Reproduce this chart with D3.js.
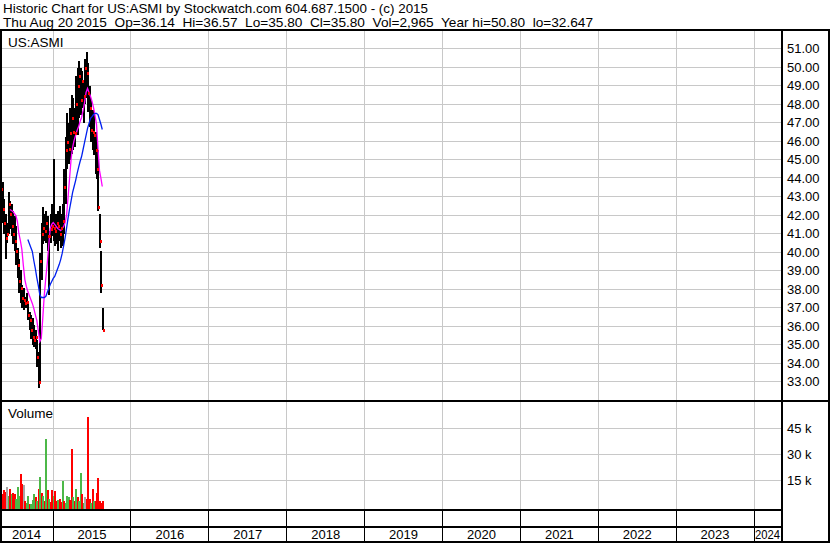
<!DOCTYPE html>
<html><head><meta charset="utf-8">
<script src="https://cdn.jsdelivr.net/npm/d3@7/dist/d3.min.js"></script>
<style>
body{margin:0;background:#fff}
svg{display:block}
text{font-family:"Liberation Sans",Arial,sans-serif;fill:#000}
</style>
</head><body>
<svg id="c" width="830" height="543"></svg>
<script>
// ---- data (weekly) ----
const dates = ["2014-05-02","2014-05-09","2014-05-16","2014-05-23","2014-05-30","2014-06-06","2014-06-13","2014-06-20","2014-06-27","2014-07-04","2014-07-11","2014-07-18","2014-07-25","2014-08-01","2014-08-08","2014-08-15","2014-08-22","2014-08-29","2014-09-05","2014-09-12","2014-09-19","2014-09-26","2014-10-03","2014-10-10","2014-10-17","2014-10-24","2014-10-31","2014-11-07","2014-11-14","2014-11-21","2014-11-28","2014-12-05","2014-12-12","2014-12-19","2014-12-26","2015-01-02","2015-01-09","2015-01-16","2015-01-23","2015-01-30","2015-02-06","2015-02-13","2015-02-20","2015-02-27","2015-03-06","2015-03-13","2015-03-20","2015-03-27","2015-04-03","2015-04-10","2015-04-17","2015-04-24","2015-05-01","2015-05-08","2015-05-15","2015-05-22","2015-05-29","2015-06-05","2015-06-12","2015-06-19","2015-06-26","2015-07-03","2015-07-10","2015-07-17","2015-07-24","2015-07-31","2015-08-07","2015-08-14","2015-08-20"];
const high = [44.30,43.81,42.89,42.03,41.59,43.27,42.78,42.62,42.19,41.92,
41.43,40.19,39.62,39.03,38.22,38.03,37.59,37.81,37.32,36.78,
36.62,36.41,36.03,35.81,35.22,34.62,39.97,41.59,42.41,42.03,
42.19,41.92,41.11,42.03,42.62,45.05,42.08,42.03,42.19,42.51,
42.03,42.62,44.51,46.24,47.49,47.00,47.81,48.51,48.30,47.81,
49.49,49.97,50.30,49.97,49.81,49.22,50.41,50.80,50.19,49.00,
48.19,47.70,47.38,46.51,45.97,45.49,42.03,40.03,36.95];
const low = [42.57,41.59,41.00,39.62,40.46,41.00,41.22,40.84,40.41,40.03,
39.32,38.62,37.81,37.22,36.95,36.89,37.00,37.00,36.30,35.81,
35.32,35.00,34.89,34.78,33.81,32.65,32.97,38.51,40.41,40.62,
40.46,40.03,37.70,40.46,40.84,40.62,40.30,40.41,40.03,40.62,
40.19,40.30,41.00,42.62,44.51,44.78,45.00,45.32,45.49,45.70,
46.51,46.30,47.22,47.38,47.81,47.00,48.00,48.30,47.59,46.78,
45.97,45.49,45.22,44.19,43.97,42.19,40.19,37.81,35.80];
const close = [43.43,42.35,41.59,40.76,41.00,42.62,42.03,41.43,41.00,40.62,
40.03,39.32,38.41,38.03,37.51,37.41,37.22,37.32,36.62,36.30,
35.81,35.43,35.22,35.38,34.30,32.97,39.49,41.00,41.32,41.11,
41.59,40.84,40.84,41.22,41.43,41.32,41.11,41.59,41.43,41.00,
41.32,41.70,43.49,45.49,45.97,45.59,46.41,47.22,46.51,46.41,
48.00,48.97,49.49,48.19,49.22,48.41,49.97,49.70,48.62,47.81,
46.57,46.51,46.30,45.49,44.51,42.41,40.62,38.19,35.80];
const volumeK = [10.4,7.0,9.2,8.5,11.0,6.0,9.8,6.9,7.5,6.9,
4.5,11.0,6.0,18.5,12.7,12.1,2.9,2.0,5.8,1.2,
1.5,3.5,6.9,5.2,3.0,9.8,16.7,7.5,5.8,3.0,
38.7,9.2,4.0,2.5,9.2,5.8,8.7,2.9,3.5,4.0,
2.5,14.4,3.0,2.0,5.8,5.2,3.5,32.9,5.2,3.0,
9.8,5.5,3.0,19.0,6.9,2.0,5.5,4.0,51.4,4.0,
2.0,9.8,3.0,3.0,7.5,16.2,2.9,2.0,2.965];
// 1 = up day, -1 = down day, 0 = unchanged
const volDir = [0,-1,-1,-1,0,1,-1,1,-1,-1,
1,1,1,-1,-1,0,-1,1,1,-1,
1,1,1,-1,1,-1,1,-1,1,-1,
1,-1,1,-1,-1,1,-1,-1,1,-1,
-1,1,-1,1,1,1,-1,-1,1,-1,
1,-1,1,1,-1,1,0,-1,-1,-1,
1,-1,1,-1,-1,-1,-1,-1,-1];
const maShort = [null,null,null,null,null,null,
42.30,42.24,42.19,42.08,41.97,41.65,41.00,40.62,40.14,39.27,38.51,38.14,37.86,37.65,
37.43,37.22,36.95,36.62,36.30,35.76,35.16,35.32,36.41,37.65,38.57,39.38,40.35,41.27,
41.49,41.59,41.49,41.38,41.27,41.22,41.16,41.27,41.38,41.59,42.03,43.00,44.03,45.05,
45.65,46.03,46.30,46.57,46.78,47.05,47.27,47.65,48.08,48.62,48.84,48.62,48.41,48.14,
47.81,47.38,46.89,45.59,44.41,43.97,43.54];
const maLong = [null,null,null,null,null,null,null,null,null,null,null,null,null,null,null,null,null,null,
40.68,40.46,40.24,40.03,39.54,39.11,38.62,38.19,37.70,37.54,37.54,37.54,37.59,37.81,
38.03,38.24,38.41,38.57,38.68,38.89,39.11,39.32,39.59,39.92,40.35,40.78,41.32,41.86,
42.35,42.78,43.22,43.54,43.86,44.24,44.57,44.89,45.16,45.54,45.92,46.30,46.68,46.95,
47.22,47.32,47.43,47.49,47.49,47.43,47.16,46.89,46.62];
const priceTicks = [51,50,49,48,47,46,45,44,43,42,41,40,39,38,37,36,35,34,33];
const volTicks = [15,30,45];
const yearLabels = [2014,2015,2016,2017,2018,2019,2020,2021,2022,2023,2024];
const header1 = "Historic Chart for US:ASMI by Stockwatch.com 604.687.1500 - (c) 2015";
const header2 = "Thu Aug 20 2015  Op=36.14  Hi=36.57  Lo=35.80  Cl=35.80  Vol=2,965  Year hi=50.80  lo=32.647";

// ---- drawing ----
const parse = d3.timeParse("%Y-%m-%d");
const data = dates.map((d,i)=>({date:parse(d),hi:high[i],lo:low[i],cl:close[i],vol:volumeK[i],dir:volDir[i],m1:maShort[i],m2:maLong[i]}));
const svg = d3.select("#c");
const W=830, L=2, R=781, PT=31, PB=400, VT=402, VB=509, YB=526, B=541;
const x = d3.scaleTime().domain([new Date(2015,0,1), new Date(2024,0,1)]).range([53,754]);
const yP = d3.scaleLinear().domain([33,51]).range([381.5,48.5]);
const yV = d3.scaleLinear().domain([0,45]).range([506.3,428.3]);
const grid = "#c8c8c8";

// header
svg.append("text").attr("x",3).attr("y",13).style("font-size","13.5px").style("white-space","pre")
  .attr("textLength",425).attr("lengthAdjust","spacingAndGlyphs").text(header1);
svg.append("text").attr("x",3).attr("y",27).style("font-size","13.5px").style("white-space","pre")
  .attr("textLength",590).attr("lengthAdjust","spacingAndGlyphs").text(header2);

const gg = svg.append("g").attr("shape-rendering","crispEdges");
// horizontal grid, price
gg.selectAll("line.hp").data(priceTicks).join("line")
  .attr("x1",L).attr("x2",R).attr("y1",d=>Math.floor(yP(d))+0.5).attr("y2",d=>Math.floor(yP(d))+0.5)
  .attr("stroke",grid);
// horizontal grid, volume
gg.selectAll("line.hv").data(volTicks).join("line")
  .attr("x1",L).attr("x2",R).attr("y1",d=>Math.floor(yV(d))+0.5).attr("y2",d=>Math.floor(yV(d))+0.5)
  .attr("stroke",grid);
// year boundaries
const yearStarts = d3.timeYear.range(new Date(2015,0,1), new Date(2025,0,1)).filter(d=>x(d)<R);
yearStarts.forEach(d=>{
  const xx = Math.floor(x(d))+0.5;
  gg.append("line").attr("x1",xx).attr("x2",xx).attr("y1",PT).attr("y2",PB).attr("stroke",grid);
  gg.append("line").attr("x1",xx).attr("x2",xx).attr("y1",VT).attr("y2",VB).attr("stroke",grid);
  gg.append("line").attr("x1",xx).attr("x2",xx).attr("y1",VB).attr("y2",B).attr("stroke","#000");
});

// labels in panels
svg.append("text").attr("x",8).attr("y",47).style("font-size","13.5px").text("US:ASMI");
svg.append("text").attr("x",8).attr("y",418).style("font-size","13.5px").text("Volume");

// volume bars
const colorOf = d => d.dir>0 ? "#4cb848" : (d.dir<0 ? "#ff0000" : "#a8a8a8");
svg.append("g").attr("shape-rendering","crispEdges").selectAll("rect").data(data).join("rect")
  .attr("x",d=>Math.floor(x(d.date)))
  .attr("width",2)
  .attr("y",d=>yV(d.vol))
  .attr("height",d=>VB-yV(d.vol))
  .attr("fill",colorOf);

// price bars (high-low)
svg.append("g").attr("shape-rendering","crispEdges").selectAll("rect").data(data).join("rect")
  .attr("x",d=>Math.floor(x(d.date)))
  .attr("width",2)
  .attr("y",d=>yP(d.hi))
  .attr("height",d=>Math.max(1,yP(d.lo)-yP(d.hi)))
  .attr("fill","#000");

// moving averages
const line1 = d3.line().defined(d=>d.m1!=null).x(d=>x(d.date)).y(d=>yP(d.m1));
const line2 = d3.line().defined(d=>d.m2!=null).x(d=>x(d.date)).y(d=>yP(d.m2));
svg.append("path").datum(data).attr("d",line1).attr("fill","none").attr("stroke","#ff00ff").attr("stroke-width",1.3);
svg.append("path").datum(data).attr("d",line2).attr("fill","none").attr("stroke","#0020f0").attr("stroke-width",1.3);

// close marks
svg.append("g").attr("shape-rendering","crispEdges").selectAll("rect").data(data).join("rect")
  .attr("x",d=>Math.floor(x(d.date))+1)
  .attr("y",d=>Math.round(yP(d.cl))-1)
  .attr("width",2).attr("height",3)
  .attr("fill","#ff0000");

// axes
const ax = svg.append("g").attr("transform",`translate(${R+2},0)`)
  .call(d3.axisRight(yP).tickValues(priceTicks).tickFormat(d3.format(".2f")).tickSize(0).tickPadding(4));
ax.select(".domain").remove();
ax.selectAll("text").style("font-size","13px").style("font-family","'Liberation Sans',Arial,sans-serif").attr("fill","#000");
const av = svg.append("g").attr("transform",`translate(${R+2},0)`)
  .call(d3.axisRight(yV).tickValues(volTicks).tickFormat(d=>d+" k").tickSize(0).tickPadding(4));
av.select(".domain").remove();
av.selectAll("text").style("font-size","13px").style("font-family","'Liberation Sans',Arial,sans-serif").attr("fill","#000");

// year labels
const bounds = [0].concat(yearStarts.map(d=>x(d))).concat([R]);
svg.selectAll("text.yr").data(yearLabels).join("text").attr("class","yr")
  .attr("x",(d,i)=>(bounds[i]+bounds[i+1])/2)
  .attr("y",539)
  .attr("text-anchor","middle")
  .style("font-size","13px")
  .attr("textLength",(d,i)=> (bounds[i+1]-bounds[i])<32 ? (bounds[i+1]-bounds[i]-2) : null)
  .attr("lengthAdjust","spacingAndGlyphs")
  .text(d=>d);

// frame
const fr = svg.append("g").attr("fill","#000").attr("shape-rendering","crispEdges");
fr.append("rect").attr("x",0).attr("y",29).attr("width",W).attr("height",2);
fr.append("rect").attr("x",0).attr("y",29).attr("width",2).attr("height",B-29+2);
fr.append("rect").attr("x",W-2).attr("y",29).attr("width",2).attr("height",B-29+2);
fr.append("rect").attr("x",0).attr("y",B).attr("width",W).attr("height",2);
fr.append("rect").attr("x",R).attr("y",29).attr("width",2).attr("height",B-29+2);
fr.append("rect").attr("x",0).attr("y",PB).attr("width",W).attr("height",2);
fr.append("rect").attr("x",0).attr("y",VB).attr("width",R).attr("height",2);
fr.append("rect").attr("x",0).attr("y",YB).attr("width",R).attr("height",2);
</script>
</body></html>
